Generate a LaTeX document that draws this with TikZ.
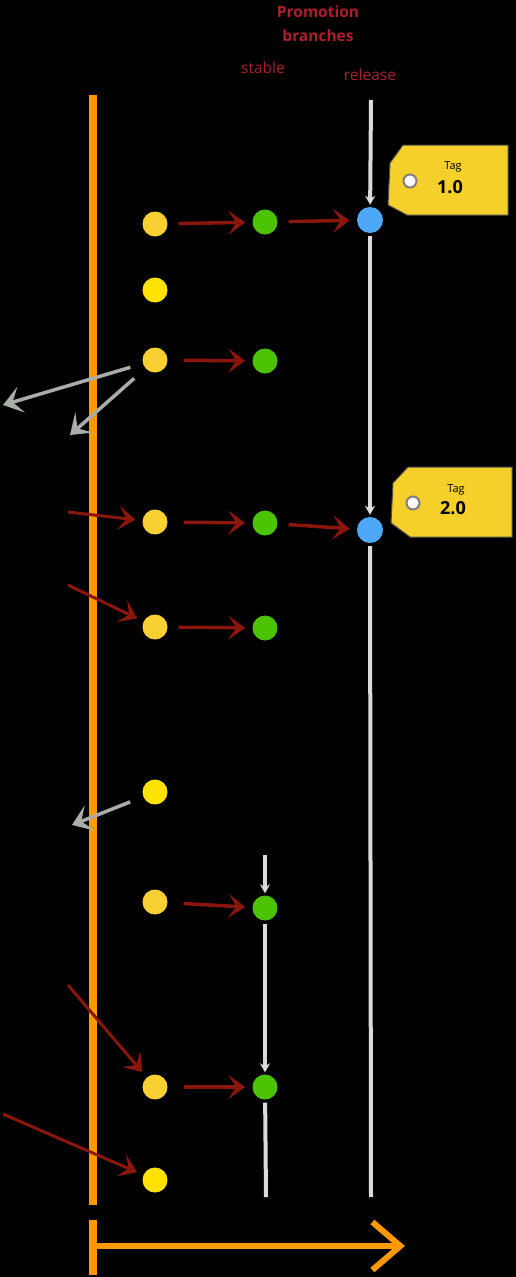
\documentclass[tikz,border=0pt]{standalone}
\usepackage{fontspec}
\setmainfont{Open Sans}
\usetikzlibrary{arrows.meta}
\definecolor{axisorange}{RGB}{255,153,0}
\definecolor{arrred}{RGB}{139,22,12}
\definecolor{txtred}{RGB}{172,32,44}
\definecolor{dotyellow}{RGB}{248,208,50}
\definecolor{dotyellowb}{RGB}{255,226,0}
\definecolor{dotgreen}{RGB}{76,195,0}
\definecolor{dotblue}{RGB}{77,168,248}
\definecolor{tagyellow}{RGB}{245,208,42}
\definecolor{arrgray}{RGB}{168,173,168}
\definecolor{linegray}{RGB}{218,218,218}
\tikzset{
  dot/.style={circle,inner sep=0pt,minimum size=25pt},
  ydot/.style={dot,fill=dotyellow},
  ybdot/.style={dot,fill=dotyellowb},
  gdot/.style={dot,fill=dotgreen},
  bdot/.style={dot,fill=dotblue,minimum size=26pt},
  redtip/.style={-{Stealth[length=17pt,width=24pt,inset=8pt]}},
  redarr/.style={draw=arrred,line width=3.5pt,redtip,shorten <=11pt,shorten >=7pt},
  inarr/.style={draw=arrred,line width=3pt,redtip,shorten >=7pt},
  grayarr/.style={draw=arrgray,line width=3.5pt,-{Stealth[length=19pt,width=27pt,inset=9pt]}},
  branchline/.style={draw=linegray,line width=4pt},
  brancharr/.style={branchline,-{Stealth[length=9pt,width=10pt]},shorten >=2pt},
  branchfrom/.style={branchline,shorten <=3pt},
  lbl/.style={text=txtred,font=\fontsize{15.5}{18}\selectfont},
  ttl/.style={text=txtred,font=\bfseries\fontsize{15.5}{18}\selectfont},
  tagshape/.style={fill=tagyellow,draw=black!70,line width=1pt},
  taghole/.style={circle,fill=white,draw=gray,line width=2pt,minimum size=13pt,inner sep=0pt},
  tagsmall/.style={font=\fontsize{11}{13}\selectfont,text=black},
  tagbig/.style={font=\bfseries\fontsize{18}{20}\selectfont,text=black},
  axis/.style={draw=axisorange,line width=8pt}
}
\begin{document}
\begin{tikzpicture}[x=1pt,y=-1pt]
\useasboundingbox (0,0) rectangle (516,1277);
\fill[black] (0,0) rectangle (516,1277);

% titles
\node[ttl] (t1) at (318,12) {Promotion};
\node[ttl] (t2) at (318,36) {branches};
\node[lbl] (stab) at (263,68) {stable};
\node[lbl] (rel) at (370,75) {release};

% timeline
\draw[axis] (93,95) -- (93,1205);
\draw[axis] (93,1220) -- (93,1275);
\coordinate (ax0) at (93,1246);
\coordinate (ax1) at (405,1246);
\draw[draw=axisorange,line width=6pt,-{Straight Barb[length=28pt,width=48pt,line width=6pt]}] (ax0) -- (ax1);

% dots
\node[ydot] (y1) at (155,224) {};
\node[ybdot] (y2) at (155,290) {};
\node[ydot] (y3) at (155,360) {};
\node[ydot] (y4) at (155,522) {};
\node[ydot] (y5) at (155,627) {};
\node[ybdot] (y6) at (155,792) {};
\node[ydot] (y7) at (155,902) {};
\node[ydot] (y8) at (155,1087) {};
\node[ybdot] (y9) at (155,1180) {};

\node[gdot] (g1) at (265,222) {};
\node[gdot] (g2) at (265,361) {};
\node[gdot] (g3) at (265,523) {};
\node[gdot] (g4) at (265,628) {};
\node[gdot] (g5) at (265,908) {};
\node[gdot] (g6) at (265,1087) {};

\node[bdot] (b1) at (370,220) {};
\node[bdot] (b2) at (370,530) {};

% release branch
\coordinate (reltop) at (371,100);
\coordinate (relbot) at (371,1197);
\draw[brancharr] (reltop) -- (b1);
\draw[brancharr,shorten <=3pt] (b1) -- (b2);
\draw[branchfrom] (b2) -- (relbot);

% stable branch
\coordinate (stabtop) at (265,855);
\coordinate (stabbot) at (266,1197);
\draw[brancharr] (stabtop) -- (g5);
\draw[brancharr,shorten <=3pt] (g5) -- (g6);
\draw[branchfrom] (g6) -- (stabbot);

% promotion arrows
\draw[redarr] (y1) -- (g1);
\draw[redarr] (g1) -- (b1);
\draw[redarr,shorten <=16pt] (y3) -- (g2);
\draw[redarr,shorten <=16pt] (y4) -- (g3);
\draw[redarr] (g3) -- (b2);
\draw[redarr] (y5) -- (g4);
\draw[redarr,shorten <=16pt] (y7) -- (g5);
\draw[redarr,shorten <=16pt] (y8) -- (g6);

% incoming arrows
\coordinate (i1) at (68,512);
\coordinate (i2) at (68,585);
\coordinate (i3) at (68,985);
\coordinate (i4) at (3,1114);
\draw[inarr] (i1) -- (y4);
\draw[inarr] (i2) -- (y5);
\draw[inarr] (i3) -- (y8);
\draw[inarr] (i4) -- (y9);

% outgoing gray arrows
\coordinate (o1) at (3,405);
\coordinate (o2) at (70,435);
\coordinate (o3) at (72,825);
\draw[grayarr,shorten <=13pt] (y3) -- (o1);
\draw[grayarr,shorten <=15pt] (y3) -- (o2);
\draw[grayarr,shorten <=14pt] (y6) -- (o3);

% tag 1.0
\path[tagshape] (403,145) -- (508,145) -- (508,215) -- (407,215) -- (388,205) -- (390,163) -- cycle;
\node[taghole] (h1) at (410,181) {};
\node[tagsmall] (tg1) at (453,167) {Tag};
\node[tagbig] (v1) at (450,187) {1.0};

% tag 2.0
\path[tagshape] (408,467) -- (512,467) -- (512,537) -- (410,537) -- (391,523) -- (393,483) -- cycle;
\node[taghole] (h2) at (413,503) {};
\node[tagsmall] (tg2) at (456,490) {Tag};
\node[tagbig] (v2) at (453,508) {2.0};
\end{tikzpicture}
\end{document}
